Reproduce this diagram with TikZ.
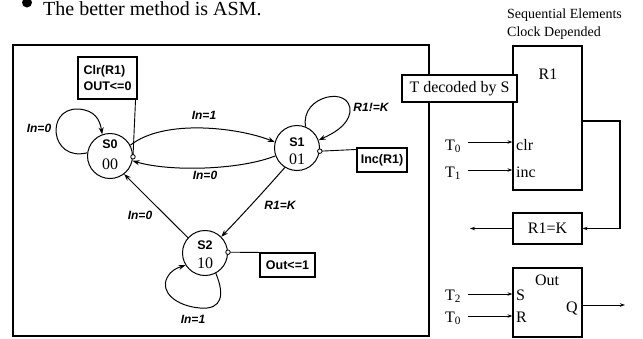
\documentclass[tikz,border=0pt]{standalone}
\usepackage{fontspec}
\setmainfont{Liberation Serif}
\newfontfamily\hsans{Liberation Sans}
\usetikzlibrary{arrows.meta}

\begin{document}
\begin{tikzpicture}[x=1pt,y=-1pt,
  state/.style={circle,draw,line width=1pt,minimum size=45pt,inner sep=0pt},
  sname/.style={font=\hsans\bfseries\fontsize{12.5}{12.5}\selectfont,inner sep=0pt},
  scode/.style={font=\fontsize{16}{16}\selectfont,inner sep=0pt},
  elab/.style={font=\hsans\bfseries\itshape\fontsize{12}{12}\selectfont,inner sep=0pt},
  act/.style={draw,line width=1.1pt,font=\hsans\bfseries\fontsize{12.5}{16}\selectfont,inner sep=0pt},
  odot/.style={circle,draw,fill=white,line width=0.8pt,minimum size=4.5pt,inner sep=0pt},
  trans/.style={line width=1pt,-{Stealth[length=7pt,width=5pt]}},
  blk/.style={draw,line width=1.2pt,fill=white,font=\fontsize{16}{16}\selectfont,inner sep=0pt},
  sig/.style={line width=1pt,-{Stealth[length=5pt,width=3.5pt]}},
  rtext/.style={font=\fontsize{16}{16}\selectfont,inner sep=0pt,anchor=base west},
  note/.style={font=\fontsize{14}{14}\selectfont,inner sep=0pt,anchor=base west},
]
\useasboundingbox (0,0) rectangle (643,338);

% heading
\fill (27,2.5) circle (5);
\node[font=\fontsize{20}{20}\selectfont,inner sep=0pt,anchor=base west] (head) at (43,15.5) {The better method is ASM.};

% controller frame
\node[draw,line width=1.2pt,minimum width=416pt,minimum height=291pt,inner sep=0pt] (frame) at (221,190.5) {};

% states
\node[state] (S0) at (110,156) {};
\node[state] (S1) at (297,148) {};
\node[state] (S2) at (205,253) {};
\node[sname] (S0n) at (110,144) {S0};
\node[scode] (S0c) at (110,164) {00};
\node[sname] (S1n) at (297,142) {S1};
\node[scode] (S1c) at (297,159) {01};
\node[sname] (S2n) at (205,245) {S2};
\node[scode] (S2c) at (205,263) {10};

% actions attached to the states
\node[act,minimum width=59pt,minimum height=42pt,align=left] (clr) at (107.5,78) {Clr(R1)\\OUT<=0};
\node[act,minimum width=50pt,minimum height=24pt] (inc) at (382,160) {Inc(R1)};
\node[act,minimum width=55pt,minimum height=24pt] (out1) at (287.5,265) {Out<=1};
\draw[line width=0.9pt] (S0.-2) -- ([xshift=-2pt]clr.south east);
\draw[line width=0.9pt] (S1.-8) -- ([yshift=-2pt]inc.north west);
\draw[line width=0.9pt] (S2.2) -- (out1.north west);
\node[odot] (d0) at (S0.-2) {};
\node[odot] (d1) at (S1.-8) {};
\node[odot] (d2) at (S2.2) {};

% transitions
\draw[trans] (S0.172) .. controls (50,162) and (45,108) .. (78,109)
             .. controls (95,110) and (100,120) .. (S0.110);
\draw[trans] (S0.28) .. controls (165,118) and (240,128) .. (S1.165);
\draw[trans] (S1.200) .. controls (240,170) and (170,172) .. (S0.-12);
\draw[trans] (S1.68) .. controls (300,95) and (352,85) .. (350,112)
             .. controls (348,126) and (332,134) .. (S1.20);
\draw[trans] (S1.-122) .. controls (265,190) and (245,212) .. (S2.45);
\draw[trans] (S2.138) .. controls (165,215) and (145,195) .. (S0.-52);
\draw[trans] (S2.-62) .. controls (225,295) and (222,310) .. (200,308)
             .. controls (176,306) and (160,292) .. (167,278)
             .. controls (171,270) and (177,268) .. (S2.-148);

\node[elab] (l1) at (39,128) {In=0};
\node[elab] (l2) at (204,115) {In=1};
\node[elab] (l3) at (205,175) {In=0};
\node[elab] (l4) at (371,107) {R1!=K};
\node[elab] (l5) at (280,205) {R1=K};
\node[elab] (l6) at (140,215) {In=0};
\node[elab] (l7) at (193,319) {In=1};

% datapath
\node[note] (seq1) at (507,18) {Sequential Elements};
\node[note] (seq2) at (507,36) {Clock Depended};

\node[blk,minimum width=69pt,minimum height=144pt] (R1) at (547.5,118) {};
\node[rtext,anchor=center] (R1n) at (548,74) {R1};
\node[blk,minimum width=115pt,minimum height=27pt] (dec) at (459.5,88.5) {T decoded by S};
\node[rtext] (clrp) at (516,150) {clr};
\node[rtext] (incp) at (516,177) {inc};
\node[rtext] (ta) at (445,150) {T\textsubscript{0}};
\node[rtext] (tb) at (445,177) {T\textsubscript{1}};
\coordinate (ta0) at (468,142);
\coordinate (tb0) at (468,170);
\draw[sig] (ta0) -- (R1.west |- ta0);
\draw[sig] (tb0) -- (R1.west |- tb0);

\node[blk,minimum width=69pt,minimum height=31pt] (R1K) at (547.5,228.5) {R1=K};
\coordinate (fb) at (620,121);
\draw[line width=1.2pt] (R1.east |- fb) -- (fb) -- (fb |- R1K.east);
\draw[sig] (fb |- R1K.east) -- (R1K.east);
\coordinate (kout) at (470,228.5);
\draw[sig] (R1K.west) -- (kout);

\node[blk,minimum width=69pt,minimum height=69pt] (OutB) at (547.5,302.5) {};
\node[rtext,anchor=center] (OutN) at (547,280) {Out};
\node[rtext] (Sp) at (516,300) {S};
\node[rtext] (Rp) at (516,322) {R};
\node[rtext] (Qp) at (566,312) {Q};
\node[rtext] (tc) at (445,300) {T\textsubscript{2}};
\node[rtext] (td) at (445,322) {T\textsubscript{0}};
\coordinate (tc0) at (468,294);
\coordinate (td0) at (468,316);
\draw[sig] (tc0) -- (OutB.west |- tc0);
\draw[sig] (td0) -- (OutB.west |- td0);
\coordinate (qout) at (625,305);
\draw[sig] (OutB.east |- qout) -- (qout);
\end{tikzpicture}
\end{document}
